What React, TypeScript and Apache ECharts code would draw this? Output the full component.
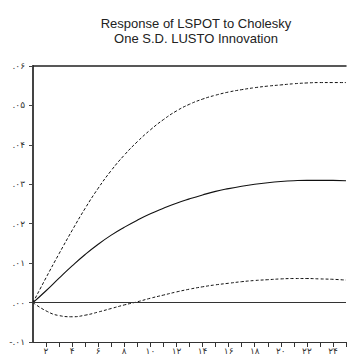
import React, { useEffect, useRef } from "react";
import * as echarts from "echarts";

const periods = [1, 2, 3, 4, 5, 6, 7, 8, 9, 10, 11, 12, 13, 14, 15, 16, 17, 18, 19, 20, 21, 22, 23, 24, 25];
const response = [0, 0.003, 0.0062, 0.0093, 0.0122, 0.0148, 0.0171, 0.0191, 0.0209, 0.0225, 0.0239, 0.0252, 0.0263, 0.0273, 0.0282, 0.0289, 0.0295, 0.03, 0.0304, 0.0307, 0.0309, 0.031, 0.031, 0.031, 0.0309];
const upperBand = [0, 0.0063, 0.0124, 0.0183, 0.0239, 0.029, 0.0335, 0.0374, 0.0408, 0.0438, 0.0464, 0.0486, 0.0503, 0.0516, 0.0526, 0.0534, 0.054, 0.0545, 0.0549, 0.0552, 0.0555, 0.0557, 0.0558, 0.0558, 0.0558];
const lowerBand = [0, -0.0021, -0.0033, -0.0036, -0.0032, -0.0024, -0.0015, -0.0006, 0.0002, 0.0011, 0.0019, 0.0027, 0.0034, 0.004, 0.0045, 0.0049, 0.0053, 0.0056, 0.0058, 0.006, 0.0061, 0.0061, 0.006, 0.0059, 0.0057];

const yTickValues = [-0.01, 0, 0.01, 0.02, 0.03, 0.04, 0.05, 0.06];
const yTickLabels = ["-.۰۱", ".۰۰", ".۰۱", ".۰۲", ".۰۳", ".۰۴", ".۰۵", ".۰۶"];
const xTickValues = [2, 4, 6, 8, 10, 12, 14, 16, 18, 20, 22, 24];
const xTickLabels = ["۲", "۴", "۶", "۸", "۱۰", "۱۲", "۱۴", "۱۶", "۱۸", "۲۰", "۲۲", "۲۴"];

const titleLines = ["Response of LSPOT to Cholesky", "One S.D. LUSTO Innovation"];

export default function App() {
  const ref = useRef<HTMLDivElement>(null);
  useEffect(() => {
    if (!ref.current) return;
    const chart = echarts.init(ref.current, undefined, { renderer: "svg" });
    const pairs = (vals: number[]) => periods.map((p, i) => [p, vals[i]]);
    chart.setOption({
      animation: false,
      backgroundColor: "#ffffff",
      title: {
        text: titleLines.join("\n"),
        left: 191,
        textAlign: "center",
        top: 11,
        textStyle: {
          fontFamily: "Liberation Sans",
          fontSize: 13,
          fontWeight: "normal",
          color: "#222",
          lineHeight: 15,
        },
      },
      grid: {
        left: 33,
        right: 0,
        top: 66,
        bottom: 14,
      },
      xAxis: [
        {
          type: "value",
          position: "bottom",
          min: 1,
          max: 25,
          interval: 1,
          axisLine: { show: true, onZero: false, lineStyle: { color: "#333", width: 1.2 } },
          axisTick: { show: true, inside: false, length: 5, lineStyle: { color: "#333", width: 1 } },
          splitLine: { show: false },
          axisLabel: {
            margin: 4,
            fontFamily: "DejaVu Sans",
            fontSize: 9,
            color: "#333",
            showMinLabel: false,
            formatter: (v: number) => {
              const i = xTickValues.indexOf(Math.round(v));
              return i >= 0 ? xTickLabels[i] : "";
            },
          },
        },
        {
          type: "value",
          position: "top",
          min: 1,
          max: 25,
          interval: 1,
          axisLine: { show: true, onZero: false, lineStyle: { color: "#222", width: 1.5 } },
          axisTick: { show: false },
          axisLabel: { show: false },
          splitLine: { show: false },
        },
      ],
      yAxis: {
        type: "value",
        min: -0.01,
        max: 0.06,
        interval: 0.01,
        axisLine: { show: true, onZero: false, lineStyle: { color: "#444", width: 2 } },
        axisTick: { show: true, inside: false, length: 4, lineStyle: { color: "#444", width: 1 } },
        splitLine: { show: false },
        axisLabel: {
          margin: 8,
          fontFamily: "DejaVu Sans",
          fontSize: 9,
          color: "#333",
          formatter: (v: number) => {
            let best = 0;
            yTickValues.forEach((t, i) => {
              if (Math.abs(t - v) < Math.abs(yTickValues[best] - v)) best = i;
            });
            return yTickLabels[best];
          },
        },
      },
      series: [
        {
          type: "line",
          data: pairs(upperBand),
          showSymbol: false,
          smooth: true,
          lineStyle: { color: "#111", width: 1, type: [3, 2] },
          z: 3,
        },
        {
          type: "line",
          data: pairs(response),
          showSymbol: false,
          smooth: true,
          lineStyle: { color: "#111", width: 1.1, type: "solid" },
          z: 3,
          markLine: {
            silent: true,
            symbol: "none",
            label: { show: false },
            lineStyle: { color: "#333", width: 1, type: "solid" },
            data: [{ yAxis: 0 }],
          },
        },
        {
          type: "line",
          data: pairs(lowerBand),
          showSymbol: false,
          smooth: true,
          lineStyle: { color: "#111", width: 1, type: [3, 2] },
          z: 3,
        },
      ],
    });
    return () => chart.dispose();
  }, []);
  return (
    <div style={{ position: "fixed", left: 0, top: 0, width: 347, height: 356, overflow: "hidden", background: "#fff" }}>
      <div ref={ref} style={{ width: 349, height: 356 }} />
    </div>
  );
}
